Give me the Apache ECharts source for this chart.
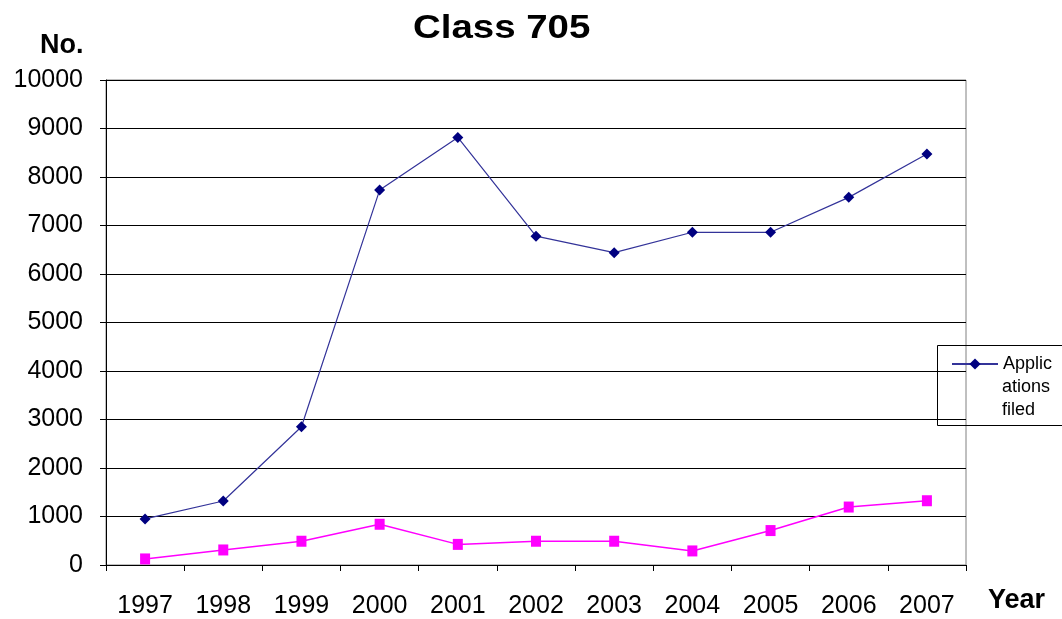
<!DOCTYPE html>
<html>
<head>
<meta charset="utf-8">
<script src="https://cdn.jsdelivr.net/npm/echarts@6/dist/echarts.min.js"></script>
<style>html,body{margin:0;padding:0;background:#fff}#c{width:1062px;height:619px}</style>
</head>
<body>
<div id="c"></div>
<script>
const years = ['1997','1998','1999','2000','2001','2002','2003','2004','2005','2006','2007'];
const applicationsFiled = [950, 1320, 2850, 7730, 8815, 6780, 6440, 6860, 6860, 7580, 8475];
const secondSeries = [125, 310, 490, 840, 425, 490, 490, 290, 710, 1195, 1325];
const yTicks = { min: 0, max: 10000, interval: 1000 };

const chart = echarts.init(document.getElementById('c'));
const font = 'Liberation Sans, Arial, sans-serif';
chart.setOption({
  animation: false,
  backgroundColor: '#fff',
  legend: {
    data: ['Applications filed'],
    orient: 'vertical', left: 951, top: 355,
    padding: 0,
    itemWidth: 46, itemHeight: 14,
    formatter: () => 'Applic',
    textStyle: { fontFamily: font, fontSize: 18, color: '#000' }
  },
  graphic: [
    { type: 'text', x: 413, y: 12, scaleX: 1.13, style: { text: 'Class 705', font: 'bold 34px ' + font, fill: '#000' } },
    { type: 'text', left: 40, top: 32, style: { text: 'No.', font: 'bold 27px ' + font, fill: '#000' } },
    { type: 'text', left: 988, top: 587, style: { text: 'Year', font: 'bold 27px ' + font, fill: '#000' } },
    { type: 'rect', shape: { x: 937.5, y: 345.5, width: 140, height: 80 }, style: { fill: 'none', stroke: '#000', lineWidth: 1 }, z: 1 },
    { type: 'text', x: 1002, y: 387, style: { text: 'ations', font: '18px ' + font, fill: '#000', verticalAlign: 'middle' } },
    { type: 'text', x: 1002, y: 410, style: { text: 'filed', font: '18px ' + font, fill: '#000', verticalAlign: 'middle' } }
  ],
  grid: { left: 106, right: 96, top: 80, bottom: 54, show: true, borderColor: '#808080', borderWidth: 1 },
  xAxis: {
    type: 'category', data: years, boundaryGap: true,
    axisLine: { lineStyle: { color: '#000', width: 1 } },
    axisTick: { show: true, length: 6, inside: false, lineStyle: { color: '#000' } },
    axisLabel: { fontFamily: font, fontSize: 25, color: '#000', margin: 29 },
    splitLine: { show: false }
  },
  yAxis: {
    type: 'value', min: yTicks.min, max: yTicks.max, interval: yTicks.interval,
    axisLine: { show: true, lineStyle: { color: '#000', width: 1 } },
    axisTick: { show: true, length: 6, lineStyle: { color: '#000' } },
    axisLabel: { fontFamily: font, fontSize: 25, color: '#000', margin: 23, formatter: v => String(v) },
    splitLine: { show: true, lineStyle: { color: '#000', width: 1 } }
  },
  series: [
    {
      name: 'Applications filed', type: 'line', data: applicationsFiled,
      symbol: 'diamond', symbolSize: 11,
      lineStyle: { color: '#333399', width: 1.2 },
      itemStyle: { color: '#000080' }
    },
    {
      name: 'Series 2', type: 'line', data: secondSeries,
      symbol: 'rect', symbolSize: [10, 11],
      lineStyle: { color: '#ff00ff', width: 1.5 },
      itemStyle: { color: '#ff00ff' }
    }
  ]
});
</script>
</body>
</html>
